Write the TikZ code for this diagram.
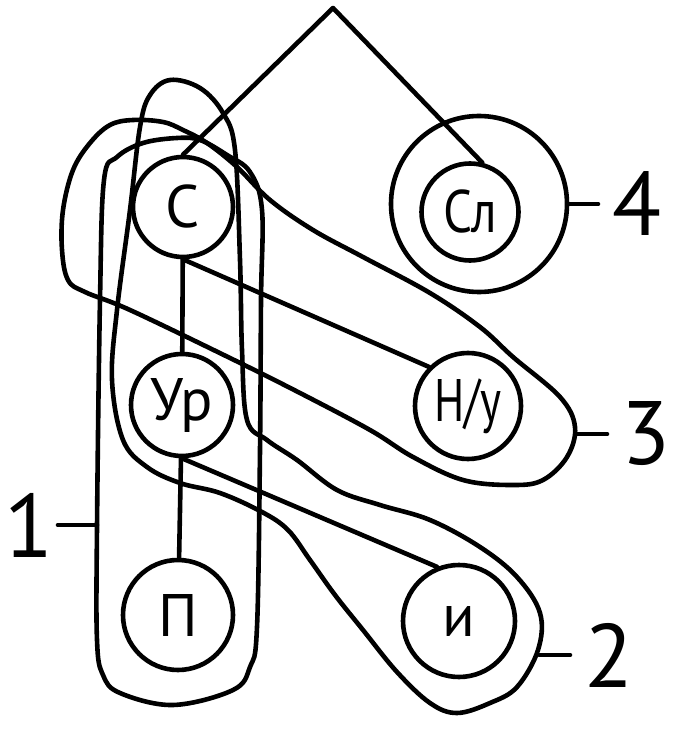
\documentclass[tikz,border=0pt]{standalone}
\usepackage{fontspec}
\setmainfont{PT Sans}
\usetikzlibrary{calc}
\usetikzlibrary{positioning}

\begin{document}
\begin{tikzpicture}[x=0.5pt, y=-0.5pt, line width=2.3pt, line join=round, line cap=round,
        vert/.style={circle, draw, inner sep=0pt, font=\fontsize{30}{32}\selectfont},
        num/.style={inner ysep=0pt, inner xsep=6pt, font=\fontsize{45}{47}\selectfont}]
            \useasboundingbox (0,0) rectangle (674,732);

            \node [vert, minimum size=50pt] (S) at (183,207) {С};
            \node [vert, minimum size=48.5pt] (SL) at (470,212) {\scalebox{0.85}[1]{Сл}};
            \node [vert, minimum size=51pt] (UR) at (182,405) {Ур};
            \node [vert, minimum size=53pt] (NU) at (468,406) {\scalebox{0.75}[1]{Н/у}};
            \node [vert, minimum size=55pt] (P) at (178,615) {П};
            \node [vert, minimum size=56pt] (I) at (459,621) {и};
            \node [circle, draw, minimum size=88pt] (G4) at (479,204) {};

            \coordinate (top) at (333,8);
            \draw (S.north) -- (top) -- (SL.76);
            \draw (S) -- (UR);
            \draw (UR) -- (P);
            \draw (S.south) -- (NU.north west);
            \draw (UR.south) -- (I.112);

            \draw plot [smooth cycle, tension=0.6] coordinates {(97,527) (97,640) (103,675) (120,693)
                (173,705) (233,690) (250,667) (257,627) (260,450) (261,300) (262,210) (250,172)
                (227,155) (200,140) (177,138) (143,143) (117,157) (104,180) (100,300)};
            \draw plot [smooth cycle, tension=0.6] coordinates {(170,80) (200,88) (223,113) (235,150)
                (240,260) (242,350) (247,420) (267,440) (297,460) (337,490) (380,505) (430,520)
                (480,547) (517,577) (540,613) (538,650) (517,687) (490,703) (457,713) (430,703)
                (397,672) (363,630) (335,595) (310,560) (288,530) (262,512) (220,493) (180,483)
                (147,467) (123,440) (112,380) (117,310) (130,210) (140,127) (150,95)};
            \draw plot [smooth cycle, tension=0.6] coordinates {(133,120) (163,122) (183,130) (207,143)
                (237,167) (270,200) (313,230) (363,257) (430,293) (480,327) (513,357) (560,397)
                (575,427) (567,457) (543,480) (513,485) (463,480) (413,457) (370,430) (300,393)
                (230,358) (130,310) (85,292) (68,280) (62,250) (63,210) (73,170) (90,143) (110,125)};

            \coordinate (g1) at (97,525);
            \coordinate (g2) at (539,655);
            \coordinate (g3) at (576,434);
            \node [num, anchor=east, inner xsep=1pt] (n1) at (58,525) {1};
            \node [num, anchor=west] (n2) at (570,655) {2};
            \node [num, anchor=west] (n3) at (607,434) {3};
            \node [num, anchor=west] (n4) at (598,204) {4};
            \draw (g1) -- (n1.east);
            \draw (g2) -- (n2.west);
            \draw (g3) -- (n3.west);
            \draw (G4.east) -- (n4.west);
        \end{tikzpicture}
\end{document}
